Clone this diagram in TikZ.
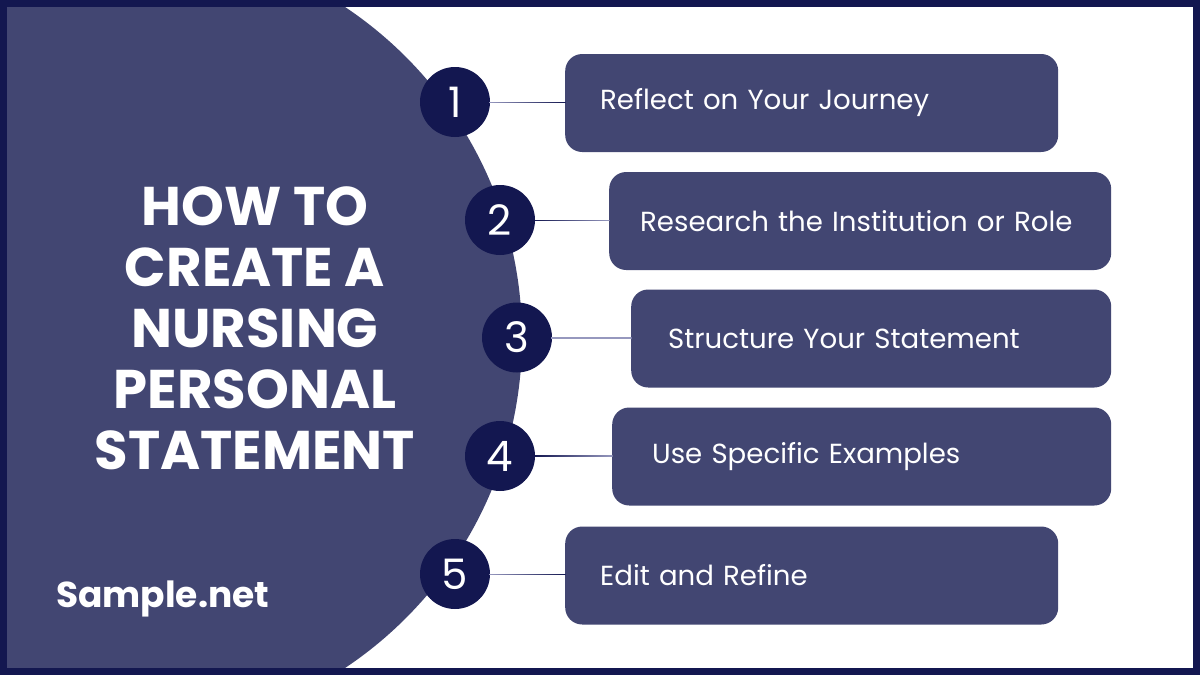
\documentclass[tikz,border=0pt]{standalone}
\usepackage{fontspec}
\setmainfont{Poppins}
\usetikzlibrary{calc}
\definecolor{navy}{RGB}{19,23,80}
\definecolor{plum}{RGB}{66,70,114}
\definecolor{lav}{RGB}{150,152,190}
\tikzset{
  numdot/.style={circle,fill=navy,text=white,minimum size=70pt,inner sep=0pt,
    font=\fontsize{42}{42}\selectfont},
  stepbox/.style={rectangle,rounded corners=17pt,fill=plum,text=white,anchor=west,
    minimum height=98pt,align=left,font=\fontsize{27.6}{32}\selectfont},
}
\newcommand{\linkbar}[4]{%
  \shade[#3] ($(#1.east)+(-1pt,-0.9pt)$) rectangle ($(#2.west)+(0.5pt,0.9pt)$);}
\begin{document}
\begin{tikzpicture}[x=1pt,y=-1pt]
\useasboundingbox (0,0) rectangle (1200,675);
\fill[white] (0,0) rectangle (1200,675);
\begin{scope}
  \clip (0,0) rectangle (1200,675);
  \fill[plum] (125,337.5) circle (397);
\end{scope}
\draw[navy,line width=7pt] (3.5,3.5) rectangle (1196.5,671.5);

% title
\node[text=white,align=center,inner sep=0pt,
  font=\fontsize{54.5}{61}\selectfont\bfseries] (title) at (255,328)
  {HOW TO\\CREATE A\\NURSING\\PERSONAL\\STATEMENT};
\node[text=white,anchor=base west,inner sep=0pt,
  font=\fontsize{36}{36}\selectfont\bfseries] (brand) at (56,607) {Sample.net};

% steps
\node[stepbox,minimum width=493pt,text width=423pt,inner xsep=35pt] (b1) at (565,103) {Reflect on Your Journey};
\node[stepbox,minimum width=502pt,text width=440pt,inner xsep=31pt] (b2) at (609,221) {Research the Institution or Role};
\node[stepbox,minimum width=480pt,text width=406pt,inner xsep=37pt] (b3) at (631,338.5) {Structure Your Statement};
\node[stepbox,minimum width=499pt,text width=419pt,inner xsep=40pt] (b4) at (612,456.5) {Use Specific Examples};
\node[stepbox,minimum width=493pt,text width=423pt,inner xsep=35pt] (b5) at (565,575.5) {Edit and Refine};

\node[numdot] (n1) at (455,102) {1};
\node[numdot] (n2) at (500,220) {2};
\node[numdot] (n3) at (517,337.5) {3};
\node[numdot] (n4) at (500,456) {4};
\node[numdot] (n5) at (455,574) {5};

\linkbar{n1}{b1}{left color=lav,right color=navy}{}
\linkbar{n2}{b2}{left color=navy,right color=lav}{}
\linkbar{n3}{b3}{left color=lav,middle color=navy,right color=lav}{}
\linkbar{n4}{b4}{left color=navy,right color=lav}{}
\linkbar{n5}{b5}{left color=lav,right color=navy}{}
\end{tikzpicture}
\end{document}
